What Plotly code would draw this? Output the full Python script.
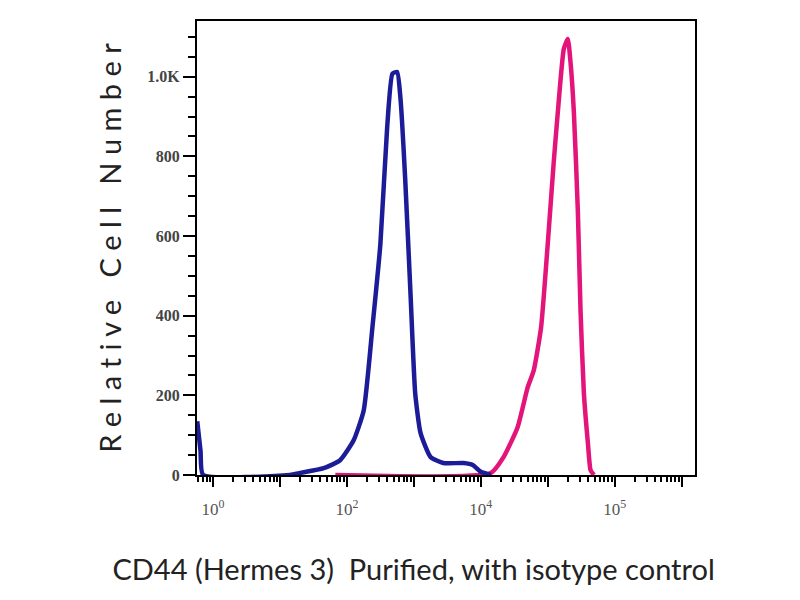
import plotly.graph_objects as go

# blue = isotype control, pink = CD44 stained (x = fluorescence intensity)
blue_x = [0.58, 0.65, 0.71, 14, 20, 45, 79, 126, 178, 240, 316, 398, 479, 562,
          631, 741, 891, 1047, 1259, 1778, 2754, 5495, 7586, 10000, 14125]
blue_y = [135, 60, 0, 0, 5, 17, 37, 87, 162, 370, 580, 870, 1008, 1012,
          945, 745, 455, 205, 105, 45, 30, 30, 25, 8, 0]

pink_x = [67, 14125, 21878, 35481, 50119, 61660, 79433, 100000, 123027, 144544,
          173780, 199526, 218776, 245471, 281838, 309030, 346737, 398107,
          436516, 489779]
pink_y = [0, 5, 45, 120, 220, 262, 370, 580, 787, 930,
          1070, 1095, 1037, 912, 662, 412, 205, 80, 12, 0]

y_ticks = [0, 200, 400, 600, 800, 1000]
y_labels = ["0", "200", "400", "600", "800", "1.0K"]
x_ticks = [1, 10, 100, 1000, 1e4, 1e5, 1e6, 1e7]
x_labels = ["10<sup>0</sup>", "", "10<sup>2</sup>", "", "10<sup>4</sup>", "",
            "10<sup>5</sup>", ""]

narrow = "Lato, Liberation Sans, sans-serif"

fig = go.Figure()
fig.add_trace(go.Scatter(x=pink_x, y=pink_y, mode="lines",
                         line=dict(color="#e3147a", width=4.5, shape="spline",
                                   smoothing=0.5),
                         showlegend=False))
fig.add_trace(go.Scatter(x=blue_x, y=blue_y, mode="lines",
                         line=dict(color="#1c1c98", width=4.5, shape="spline",
                                   smoothing=0.5),
                         showlegend=False))

# page has an 8px body margin, so margins are shifted by 8
fig.update_layout(
    width=800,
    height=600,
    margin=dict(l=189, r=113, t=11, b=133),
    paper_bgcolor="white",
    plot_bgcolor="white",
    title=dict(
        text="CD44 (Hermes 3)  Purified, with isotype control",
        x=0.507, xanchor="center", y=0.063, yanchor="middle",
        font=dict(family=narrow, size=29, color="#222"),
    ),
)
fig.update_xaxes(
    type="log",
    range=[-0.24, 7.2],
    tickmode="array",
    tickvals=x_ticks,
    ticktext=x_labels,
    ticks="outside", ticklen=10, tickwidth=2, tickcolor="black",
    minor=dict(ticks="outside", ticklen=5, tickwidth=1.5, tickcolor="black",
               dtick="D1"),
    showgrid=False, zeroline=False,
    showline=True, linecolor="black", linewidth=2, mirror=True,
    tickfont=dict(family="Liberation Serif, serif", size=17, color="#555"),
    ticklabelstandoff=8,
)
fig.update_yaxes(
    range=[0, 1140],
    tickmode="array",
    tickvals=y_ticks,
    ticktext=y_labels,
    ticks="outside", ticklen=12, tickwidth=2, tickcolor="black",
    minor=dict(ticks="outside", ticklen=7, tickwidth=1.5, tickcolor="black",
               dtick=50),
    showgrid=False, zeroline=False,
    showline=True, linecolor="black", linewidth=2, mirror=True,
    tickfont=dict(family="Liberation Serif, serif", size=16, color="#444",
                  weight="bold"),
    title=dict(
        text="R e l a t i v e   C e l l   N u m b e r",
        font=dict(family=narrow, size=29, color="#222"),
        standoff=17,
    ),
)

fig.write_html("out.html")
